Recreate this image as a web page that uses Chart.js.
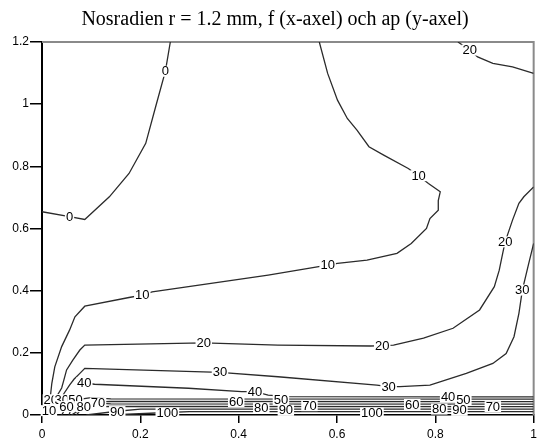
<!DOCTYPE html>
<html>
<head>
<meta charset="utf-8">
<script src="https://cdn.jsdelivr.net/npm/chart.js@4.4.1/dist/chart.umd.min.js"></script>
<style>
  html, body { margin: 0; padding: 0; background: #fff; }
  #wrap { width: 541px; height: 443px; }
</style>
</head>
<body>
<div id="wrap"><canvas id="myChart" width="541" height="443"></canvas></div>
<script>
const title = 'Nosradien r = 1.2 mm, f (x-axel) och ap (y-axel)';

// contour lines, [f, ap] pairs
const c0 = [[0.261,1.2],[0.251,1.106],[0.231,0.991],[0.211,0.874],[0.177,0.777],[0.137,0.702],[0.087,0.629],[0.056,0.638],[0,0.654]];
const c10 = [[0.564,1.2],[0.581,1.099],[0.601,1.013],[0.621,0.954],[0.641,0.916],[0.665,0.863],[0.695,0.836],[0.745,0.793],[0.766,0.770],
  [0.786,0.745],[0.810,0.718],[0.806,0.690],[0.806,0.659],[0.789,0.632],[0.782,0.600],[0.751,0.552],[0.722,0.520],[0.661,0.498],
  [0.601,0.488],[0.581,0.482],[0.460,0.450],[0.224,0.396],[0.204,0.386],[0.177,0.378],[0.087,0.350],[0.067,0.316],[0.056,0.273],
  [0.040,0.220],[0.026,0.155],[0.020,0.102],[0.018,0.074],[0.016,0.040],[0.014,0.014]];
const c20top = [[0.846,1.2],[0.870,1.174],[0.886,1.152],[0.917,1.131],[0.957,1.120],[1.0,1.099]];
const c20 = [[1.0,0.734],[0.980,0.702],[0.970,0.681],[0.957,0.627],[0.942,0.557],[0.937,0.520],[0.930,0.466],[0.920,0.413],
  [0.890,0.338],[0.836,0.279],[0.776,0.247],[0.715,0.225],[0.692,0.223],[0.668,0.222],[0.480,0.225],[0.329,0.232],[0.087,0.225],
  [0.077,0.209],[0.063,0.177],[0.050,0.145],[0.044,0.110],[0.040,0.087],[0.030,0.060],[0.018,0.049]];
const c30 = [[1.0,0.552],[0.990,0.488],[0.977,0.402],[0.970,0.327],[0.960,0.252],[0.944,0.198],[0.917,0.166],[0.863,0.134],
  [0.789,0.096],[0.728,0.091],[0.705,0.091],[0.681,0.096],[0.480,0.123],[0.362,0.137],[0.087,0.150],[0.077,0.134],[0.065,0.115],
  [0.056,0.096],[0.045,0.070],[0.038,0.049]];
const c40 = [[0.086,0.103],[0.107,0.099],[0.298,0.086],[0.406,0.075],[0.433,0.075],[0.46,0.064],[0.5,0.059],[0.826,0.058],[1.0,0.058]];
const c50 = [[0.055,0.0],[0.065,0.048],[0.1,0.056],[0.14,0.052],[1.0,0.051]];
const c60 = [[0.04,0.0],[0.05,0.027],[0.075,0.040],[0.14,0.044],[1.0,0.043]];
const c70 = [[0.06,0.0],[0.09,0.030],[0.114,0.038],[0.14,0.036],[1.0,0.035]];
const c80 = [[0.07,0.0],[0.083,0.025],[0.14,0.028],[1.0,0.027]];
const c90 = [[0.09,0.0],[0.153,0.012],[0.2,0.019],[1.0,0.019]];
const c100 = [[0.14,0.0],[0.255,0.008],[0.3,0.011],[1.0,0.011]];

// contour labels
const labelText = ['0','0','10','10','10','10','20','20','20','20','20','30','30','30','30',
  '40','40','40','50','50','50','60','60','60','70','70','70','80','80','80','90','90','90','100','100'];
const labelF = [0.251,0.056,0.766,0.581,0.204,0.014,0.870,0.942,0.692,0.329,0.018,0.977,0.705,0.362,0.040,
  0.086,0.433,0.826,0.068,0.486,0.857,0.05,0.395,0.753,0.114,0.544,0.917,0.085,0.446,0.808,0.153,0.496,0.849,0.255,0.671];
const labelAp = [1.106,0.638,0.770,0.482,0.386,0.014,1.174,0.557,0.223,0.232,0.049,0.402,0.091,0.137,0.049,
  0.103,0.075,0.058,0.048,0.050,0.048,0.027,0.043,0.034,0.039,0.030,0.027,0.027,0.022,0.019,0.011,0.015,0.015,0.006,0.006];

const segments = [c0, c10, c20top, c20, c30, c40, c50, c60, c70, c80, c90, c100];

const ctx = document.getElementById('myChart').getContext('2d');

const frame = {
  id: 'frame',
  beforeDatasetsDraw(chart) {
    const a = chart.chartArea, c = chart.ctx;
    c.save();
    c.strokeStyle = '#8a8a8a';
    c.lineWidth = 2;
    c.beginPath();
    c.moveTo(a.left, a.top);
    c.lineTo(a.right, a.top);
    c.lineTo(a.right, a.bottom);
    c.stroke();
    c.restore();
  },
  afterDraw(chart) {
    const c = chart.ctx;
    c.save();
    c.font = '20px "Liberation Serif"';
    c.fillStyle = '#000';
    c.textAlign = 'center';
    c.textBaseline = 'middle';
    c.fillText(title, 275, 20);
    c.restore();
  }
};

const contourLabels = {
  id: 'contourLabels',
  afterDatasetsDraw(chart) {
    const c = chart.ctx, xs = chart.scales.x, ys = chart.scales.y;
    c.save();
    c.font = '13px "Liberation Sans"';
    c.textAlign = 'center';
    c.textBaseline = 'middle';
    labelText.forEach((t, i) => {
      const px = xs.getPixelForValue(labelF[i]);
      const py = ys.getPixelForValue(labelAp[i]);
      const w = c.measureText(t).width;
      c.fillStyle = '#fff';
      c.fillRect(px - w / 2 - 1, py - 5.5, w + 2, 11);
      c.fillStyle = '#000';
      c.fillText(t, px, py + 0.5);
    });
    c.restore();
  }
};

const fmt = v => String(+v.toFixed(1));

new Chart(ctx, {
  type: 'scatter',
  data: {
    datasets: segments.map(s => ({
      data: s.map(p => ({ x: p[0], y: p[1] })),
      showLine: true,
      borderColor: '#2b2b2b',
      borderWidth: 1.3,
      pointRadius: 0,
      tension: 0
    }))
  },
  options: {
    responsive: false,
    animation: false,
    layout: { padding: { top: 42, right: 3, left: 0, bottom: 0 } },
    plugins: { legend: { display: false }, tooltip: { enabled: false } },
    scales: {
      x: {
        min: 0, max: 1,
        afterFit: s => { s.height = 28; },
        ticks: { stepSize: 0.2, color: '#000', font: { family: 'Liberation Sans', size: 12 }, padding: 4, maxRotation: 0, callback: fmt },
        grid: { drawOnChartArea: false, color: '#000', tickLength: 8, lineWidth: 1.5 },
        border: { color: '#000', width: 1.5 }
      },
      y: {
        min: 0, max: 1.2,
        afterFit: s => { s.width = 42; },
        ticks: { stepSize: 0.2, color: '#000', font: { family: 'Liberation Sans', size: 12 }, padding: 1, callback: fmt },
        grid: { drawOnChartArea: false, color: '#000', tickLength: 12, lineWidth: 1.5 },
        border: { color: '#000', width: 2 }
      }
    }
  },
  plugins: [frame, contourLabels]
});
</script>
</body>
</html>
